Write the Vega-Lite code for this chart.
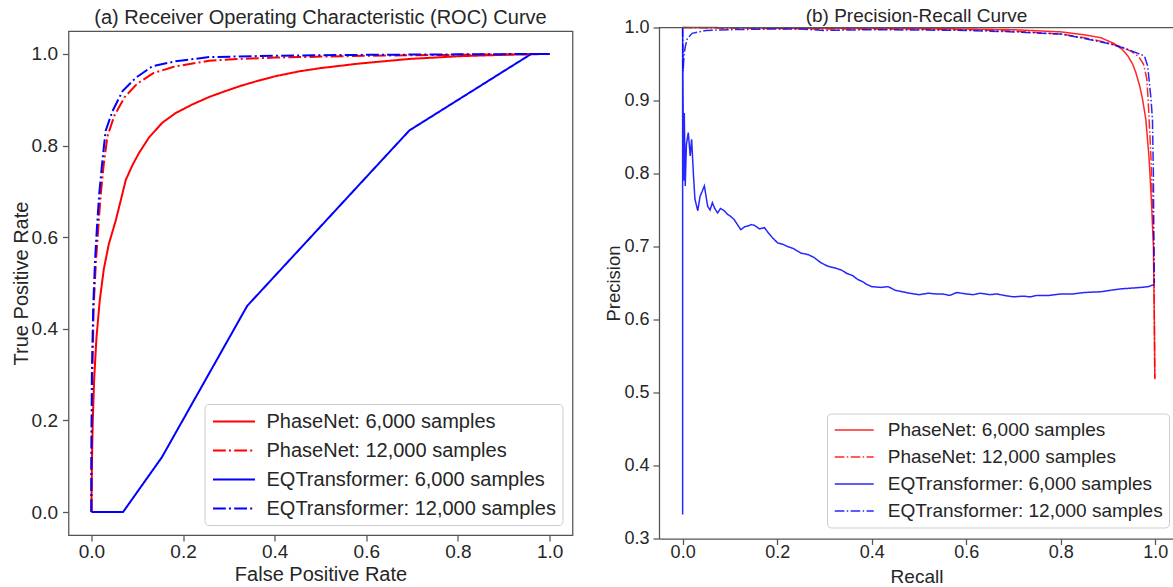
{
  "$schema": "https://vega.github.io/schema/vega-lite/v6.json",
  "padding": {"left": 9.5, "top": 6.5, "right": 0, "bottom": 0},
  "config": {
    "font": "Liberation Sans",
    "background": "#ffffff",
    "axis": {"grid": false, "labelFontSize": 19, "titleFontSize": 20, "labelColor": "#262626", "titleColor": "#262626", "titleFontWeight": "normal", "tickColor": "#555555", "tickWidth": 1.25, "tickSize": 6, "labelPadding": 2, "titlePadding": 4, "domainColor": "#555555", "domainWidth": 1.25},
    "title": {"fontSize": 20, "fontWeight": "normal", "color": "#262626", "anchor": "middle", "offset": 0, "frame": "group"},
    "legend": {"labelColor": "#262626", "labelLimit": 500}
  },
  "datasets": {
    "roc": [
      {"series": "PhaseNet: 6,000 samples", "i": 0, "x": 0, "y": 0},
      {"series": "PhaseNet: 6,000 samples", "i": 1, "x": 0.001, "y": 0.1},
      {"series": "PhaseNet: 6,000 samples", "i": 2, "x": 0.003, "y": 0.2},
      {"series": "PhaseNet: 6,000 samples", "i": 3, "x": 0.006, "y": 0.29},
      {"series": "PhaseNet: 6,000 samples", "i": 4, "x": 0.011, "y": 0.38},
      {"series": "PhaseNet: 6,000 samples", "i": 5, "x": 0.018, "y": 0.46},
      {"series": "PhaseNet: 6,000 samples", "i": 6, "x": 0.027, "y": 0.53},
      {"series": "PhaseNet: 6,000 samples", "i": 7, "x": 0.038, "y": 0.585},
      {"series": "PhaseNet: 6,000 samples", "i": 8, "x": 0.053, "y": 0.636},
      {"series": "PhaseNet: 6,000 samples", "i": 9, "x": 0.064, "y": 0.68},
      {"series": "PhaseNet: 6,000 samples", "i": 10, "x": 0.075, "y": 0.725},
      {"series": "PhaseNet: 6,000 samples", "i": 11, "x": 0.09, "y": 0.758},
      {"series": "PhaseNet: 6,000 samples", "i": 12, "x": 0.104, "y": 0.784},
      {"series": "PhaseNet: 6,000 samples", "i": 13, "x": 0.126, "y": 0.818},
      {"series": "PhaseNet: 6,000 samples", "i": 14, "x": 0.155, "y": 0.85},
      {"series": "PhaseNet: 6,000 samples", "i": 15, "x": 0.184, "y": 0.871},
      {"series": "PhaseNet: 6,000 samples", "i": 16, "x": 0.221, "y": 0.89},
      {"series": "PhaseNet: 6,000 samples", "i": 17, "x": 0.257, "y": 0.906},
      {"series": "PhaseNet: 6,000 samples", "i": 18, "x": 0.29, "y": 0.918},
      {"series": "PhaseNet: 6,000 samples", "i": 19, "x": 0.325, "y": 0.93},
      {"series": "PhaseNet: 6,000 samples", "i": 20, "x": 0.359, "y": 0.94},
      {"series": "PhaseNet: 6,000 samples", "i": 21, "x": 0.4, "y": 0.951},
      {"series": "PhaseNet: 6,000 samples", "i": 22, "x": 0.454, "y": 0.962},
      {"series": "PhaseNet: 6,000 samples", "i": 23, "x": 0.5, "y": 0.969},
      {"series": "PhaseNet: 6,000 samples", "i": 24, "x": 0.585, "y": 0.979},
      {"series": "PhaseNet: 6,000 samples", "i": 25, "x": 0.694, "y": 0.989},
      {"series": "PhaseNet: 6,000 samples", "i": 26, "x": 0.803, "y": 0.995},
      {"series": "PhaseNet: 6,000 samples", "i": 27, "x": 0.9, "y": 0.998},
      {"series": "PhaseNet: 6,000 samples", "i": 28, "x": 1.0, "y": 1.0},
      {"series": "PhaseNet: 12,000 samples", "i": 0, "x": 0, "y": 0},
      {"series": "PhaseNet: 12,000 samples", "i": 1, "x": 0, "y": 0.1},
      {"series": "PhaseNet: 12,000 samples", "i": 2, "x": 0.002, "y": 0.3},
      {"series": "PhaseNet: 12,000 samples", "i": 3, "x": 0.005, "y": 0.45},
      {"series": "PhaseNet: 12,000 samples", "i": 4, "x": 0.01, "y": 0.55},
      {"series": "PhaseNet: 12,000 samples", "i": 5, "x": 0.015, "y": 0.62},
      {"series": "PhaseNet: 12,000 samples", "i": 6, "x": 0.02, "y": 0.69},
      {"series": "PhaseNet: 12,000 samples", "i": 7, "x": 0.027, "y": 0.76},
      {"series": "PhaseNet: 12,000 samples", "i": 8, "x": 0.035, "y": 0.82},
      {"series": "PhaseNet: 12,000 samples", "i": 9, "x": 0.05, "y": 0.865},
      {"series": "PhaseNet: 12,000 samples", "i": 10, "x": 0.072, "y": 0.905},
      {"series": "PhaseNet: 12,000 samples", "i": 11, "x": 0.1, "y": 0.935},
      {"series": "PhaseNet: 12,000 samples", "i": 12, "x": 0.135, "y": 0.958},
      {"series": "PhaseNet: 12,000 samples", "i": 13, "x": 0.18, "y": 0.972},
      {"series": "PhaseNet: 12,000 samples", "i": 14, "x": 0.257, "y": 0.985},
      {"series": "PhaseNet: 12,000 samples", "i": 15, "x": 0.3, "y": 0.988},
      {"series": "PhaseNet: 12,000 samples", "i": 16, "x": 0.4, "y": 0.992},
      {"series": "PhaseNet: 12,000 samples", "i": 17, "x": 0.6, "y": 0.996},
      {"series": "PhaseNet: 12,000 samples", "i": 18, "x": 0.8, "y": 0.998},
      {"series": "PhaseNet: 12,000 samples", "i": 19, "x": 1.0, "y": 1.0},
      {"series": "EQTransformer: 6,000 samples", "i": 0, "x": 0, "y": 0},
      {"series": "EQTransformer: 6,000 samples", "i": 1, "x": 0.069, "y": 0},
      {"series": "EQTransformer: 6,000 samples", "i": 2, "x": 0.154, "y": 0.12},
      {"series": "EQTransformer: 6,000 samples", "i": 3, "x": 0.34, "y": 0.45},
      {"series": "EQTransformer: 6,000 samples", "i": 4, "x": 0.694, "y": 0.833},
      {"series": "EQTransformer: 6,000 samples", "i": 5, "x": 0.96, "y": 1.0},
      {"series": "EQTransformer: 6,000 samples", "i": 6, "x": 1.0, "y": 1.0},
      {"series": "EQTransformer: 12,000 samples", "i": 0, "x": 0, "y": 0},
      {"series": "EQTransformer: 12,000 samples", "i": 1, "x": 0, "y": 0.1},
      {"series": "EQTransformer: 12,000 samples", "i": 2, "x": 0.001, "y": 0.3},
      {"series": "EQTransformer: 12,000 samples", "i": 3, "x": 0.004, "y": 0.45},
      {"series": "EQTransformer: 12,000 samples", "i": 4, "x": 0.008, "y": 0.55},
      {"series": "EQTransformer: 12,000 samples", "i": 5, "x": 0.012, "y": 0.62},
      {"series": "EQTransformer: 12,000 samples", "i": 6, "x": 0.017, "y": 0.694},
      {"series": "EQTransformer: 12,000 samples", "i": 7, "x": 0.024, "y": 0.767},
      {"series": "EQTransformer: 12,000 samples", "i": 8, "x": 0.031, "y": 0.832},
      {"series": "EQTransformer: 12,000 samples", "i": 9, "x": 0.046, "y": 0.875},
      {"series": "EQTransformer: 12,000 samples", "i": 10, "x": 0.068, "y": 0.919},
      {"series": "EQTransformer: 12,000 samples", "i": 11, "x": 0.097, "y": 0.948},
      {"series": "EQTransformer: 12,000 samples", "i": 12, "x": 0.133, "y": 0.973},
      {"series": "EQTransformer: 12,000 samples", "i": 13, "x": 0.184, "y": 0.984},
      {"series": "EQTransformer: 12,000 samples", "i": 14, "x": 0.257, "y": 0.993},
      {"series": "EQTransformer: 12,000 samples", "i": 15, "x": 0.4, "y": 0.996},
      {"series": "EQTransformer: 12,000 samples", "i": 16, "x": 0.6, "y": 0.998},
      {"series": "EQTransformer: 12,000 samples", "i": 17, "x": 0.8, "y": 0.999},
      {"series": "EQTransformer: 12,000 samples", "i": 18, "x": 1.0, "y": 1.0}
    ],
    "pr": [
      {"series": "PhaseNet: 6,000 samples", "i": 0, "x": 0, "y": 1.0},
      {"series": "PhaseNet: 6,000 samples", "i": 1, "x": 0.05, "y": 1.0},
      {"series": "PhaseNet: 6,000 samples", "i": 2, "x": 0.2, "y": 0.999},
      {"series": "PhaseNet: 6,000 samples", "i": 3, "x": 0.4, "y": 0.999},
      {"series": "PhaseNet: 6,000 samples", "i": 4, "x": 0.6, "y": 0.998},
      {"series": "PhaseNet: 6,000 samples", "i": 5, "x": 0.7, "y": 0.997},
      {"series": "PhaseNet: 6,000 samples", "i": 6, "x": 0.8, "y": 0.994},
      {"series": "PhaseNet: 6,000 samples", "i": 7, "x": 0.85, "y": 0.99},
      {"series": "PhaseNet: 6,000 samples", "i": 8, "x": 0.885, "y": 0.986},
      {"series": "PhaseNet: 6,000 samples", "i": 9, "x": 0.913, "y": 0.978},
      {"series": "PhaseNet: 6,000 samples", "i": 10, "x": 0.93, "y": 0.97},
      {"series": "PhaseNet: 6,000 samples", "i": 11, "x": 0.942, "y": 0.961},
      {"series": "PhaseNet: 6,000 samples", "i": 12, "x": 0.952, "y": 0.95},
      {"series": "PhaseNet: 6,000 samples", "i": 13, "x": 0.959, "y": 0.938},
      {"series": "PhaseNet: 6,000 samples", "i": 14, "x": 0.967, "y": 0.92},
      {"series": "PhaseNet: 6,000 samples", "i": 15, "x": 0.973, "y": 0.902},
      {"series": "PhaseNet: 6,000 samples", "i": 16, "x": 0.98, "y": 0.874},
      {"series": "PhaseNet: 6,000 samples", "i": 17, "x": 0.987, "y": 0.82},
      {"series": "PhaseNet: 6,000 samples", "i": 18, "x": 0.992, "y": 0.76},
      {"series": "PhaseNet: 6,000 samples", "i": 19, "x": 0.996, "y": 0.7},
      {"series": "PhaseNet: 6,000 samples", "i": 20, "x": 0.998, "y": 0.6},
      {"series": "PhaseNet: 6,000 samples", "i": 21, "x": 0.999, "y": 0.518},
      {"series": "PhaseNet: 12,000 samples", "i": 0, "x": 0, "y": 1.0},
      {"series": "PhaseNet: 12,000 samples", "i": 1, "x": 0.1, "y": 0.999},
      {"series": "PhaseNet: 12,000 samples", "i": 2, "x": 0.3, "y": 0.998},
      {"series": "PhaseNet: 12,000 samples", "i": 3, "x": 0.5, "y": 0.998},
      {"series": "PhaseNet: 12,000 samples", "i": 4, "x": 0.6, "y": 0.997},
      {"series": "PhaseNet: 12,000 samples", "i": 5, "x": 0.7, "y": 0.995},
      {"series": "PhaseNet: 12,000 samples", "i": 6, "x": 0.8, "y": 0.991},
      {"series": "PhaseNet: 12,000 samples", "i": 7, "x": 0.85, "y": 0.986},
      {"series": "PhaseNet: 12,000 samples", "i": 8, "x": 0.9, "y": 0.979},
      {"series": "PhaseNet: 12,000 samples", "i": 9, "x": 0.93, "y": 0.973},
      {"series": "PhaseNet: 12,000 samples", "i": 10, "x": 0.95, "y": 0.967},
      {"series": "PhaseNet: 12,000 samples", "i": 11, "x": 0.965, "y": 0.96},
      {"series": "PhaseNet: 12,000 samples", "i": 12, "x": 0.975, "y": 0.95},
      {"series": "PhaseNet: 12,000 samples", "i": 13, "x": 0.982, "y": 0.93},
      {"series": "PhaseNet: 12,000 samples", "i": 14, "x": 0.985, "y": 0.9},
      {"series": "PhaseNet: 12,000 samples", "i": 15, "x": 0.987, "y": 0.874},
      {"series": "PhaseNet: 12,000 samples", "i": 16, "x": 0.991, "y": 0.82},
      {"series": "PhaseNet: 12,000 samples", "i": 17, "x": 0.994, "y": 0.76},
      {"series": "PhaseNet: 12,000 samples", "i": 18, "x": 0.997, "y": 0.7},
      {"series": "PhaseNet: 12,000 samples", "i": 19, "x": 0.998, "y": 0.6},
      {"series": "PhaseNet: 12,000 samples", "i": 20, "x": 0.999, "y": 0.52},
      {"series": "EQTransformer: 6,000 samples", "i": 0, "x": 0, "y": 0.333},
      {"series": "EQTransformer: 6,000 samples", "i": 1, "x": 0, "y": 1.0},
      {"series": "EQTransformer: 6,000 samples", "i": 2, "x": 0.002, "y": 0.79},
      {"series": "EQTransformer: 6,000 samples", "i": 3, "x": 0.0035, "y": 0.883},
      {"series": "EQTransformer: 6,000 samples", "i": 4, "x": 0.0055, "y": 0.783},
      {"series": "EQTransformer: 6,000 samples", "i": 5, "x": 0.008, "y": 0.84},
      {"series": "EQTransformer: 6,000 samples", "i": 6, "x": 0.012, "y": 0.856},
      {"series": "EQTransformer: 6,000 samples", "i": 7, "x": 0.016, "y": 0.824},
      {"series": "EQTransformer: 6,000 samples", "i": 8, "x": 0.019, "y": 0.847},
      {"series": "EQTransformer: 6,000 samples", "i": 9, "x": 0.023, "y": 0.797},
      {"series": "EQTransformer: 6,000 samples", "i": 10, "x": 0.026, "y": 0.765},
      {"series": "EQTransformer: 6,000 samples", "i": 11, "x": 0.032, "y": 0.749},
      {"series": "EQTransformer: 6,000 samples", "i": 12, "x": 0.037, "y": 0.769},
      {"series": "EQTransformer: 6,000 samples", "i": 13, "x": 0.041, "y": 0.775},
      {"series": "EQTransformer: 6,000 samples", "i": 14, "x": 0.046, "y": 0.783},
      {"series": "EQTransformer: 6,000 samples", "i": 15, "x": 0.053, "y": 0.755},
      {"series": "EQTransformer: 6,000 samples", "i": 16, "x": 0.058, "y": 0.75},
      {"series": "EQTransformer: 6,000 samples", "i": 17, "x": 0.063, "y": 0.76},
      {"series": "EQTransformer: 6,000 samples", "i": 18, "x": 0.068, "y": 0.752},
      {"series": "EQTransformer: 6,000 samples", "i": 19, "x": 0.074, "y": 0.746},
      {"series": "EQTransformer: 6,000 samples", "i": 20, "x": 0.08, "y": 0.752},
      {"series": "EQTransformer: 6,000 samples", "i": 21, "x": 0.088, "y": 0.749},
      {"series": "EQTransformer: 6,000 samples", "i": 22, "x": 0.095, "y": 0.744},
      {"series": "EQTransformer: 6,000 samples", "i": 23, "x": 0.1, "y": 0.742},
      {"series": "EQTransformer: 6,000 samples", "i": 24, "x": 0.109, "y": 0.737},
      {"series": "EQTransformer: 6,000 samples", "i": 25, "x": 0.116, "y": 0.73},
      {"series": "EQTransformer: 6,000 samples", "i": 26, "x": 0.123, "y": 0.723},
      {"series": "EQTransformer: 6,000 samples", "i": 27, "x": 0.131, "y": 0.727},
      {"series": "EQTransformer: 6,000 samples", "i": 28, "x": 0.138, "y": 0.728},
      {"series": "EQTransformer: 6,000 samples", "i": 29, "x": 0.145, "y": 0.73},
      {"series": "EQTransformer: 6,000 samples", "i": 30, "x": 0.152, "y": 0.729},
      {"series": "EQTransformer: 6,000 samples", "i": 31, "x": 0.163, "y": 0.724},
      {"series": "EQTransformer: 6,000 samples", "i": 32, "x": 0.173, "y": 0.726},
      {"series": "EQTransformer: 6,000 samples", "i": 33, "x": 0.182, "y": 0.718},
      {"series": "EQTransformer: 6,000 samples", "i": 34, "x": 0.19, "y": 0.712},
      {"series": "EQTransformer: 6,000 samples", "i": 35, "x": 0.201, "y": 0.705},
      {"series": "EQTransformer: 6,000 samples", "i": 36, "x": 0.212, "y": 0.703},
      {"series": "EQTransformer: 6,000 samples", "i": 37, "x": 0.222, "y": 0.7},
      {"series": "EQTransformer: 6,000 samples", "i": 38, "x": 0.235, "y": 0.697},
      {"series": "EQTransformer: 6,000 samples", "i": 39, "x": 0.25, "y": 0.691},
      {"series": "EQTransformer: 6,000 samples", "i": 40, "x": 0.265, "y": 0.689},
      {"series": "EQTransformer: 6,000 samples", "i": 41, "x": 0.278, "y": 0.685},
      {"series": "EQTransformer: 6,000 samples", "i": 42, "x": 0.292, "y": 0.678},
      {"series": "EQTransformer: 6,000 samples", "i": 43, "x": 0.307, "y": 0.673},
      {"series": "EQTransformer: 6,000 samples", "i": 44, "x": 0.32, "y": 0.671},
      {"series": "EQTransformer: 6,000 samples", "i": 45, "x": 0.335, "y": 0.668},
      {"series": "EQTransformer: 6,000 samples", "i": 46, "x": 0.348, "y": 0.663},
      {"series": "EQTransformer: 6,000 samples", "i": 47, "x": 0.36, "y": 0.66},
      {"series": "EQTransformer: 6,000 samples", "i": 48, "x": 0.37, "y": 0.655},
      {"series": "EQTransformer: 6,000 samples", "i": 49, "x": 0.38, "y": 0.652},
      {"series": "EQTransformer: 6,000 samples", "i": 50, "x": 0.39, "y": 0.648},
      {"series": "EQTransformer: 6,000 samples", "i": 51, "x": 0.4, "y": 0.645},
      {"series": "EQTransformer: 6,000 samples", "i": 52, "x": 0.42, "y": 0.644},
      {"series": "EQTransformer: 6,000 samples", "i": 53, "x": 0.435, "y": 0.645},
      {"series": "EQTransformer: 6,000 samples", "i": 54, "x": 0.45, "y": 0.64},
      {"series": "EQTransformer: 6,000 samples", "i": 55, "x": 0.465, "y": 0.638},
      {"series": "EQTransformer: 6,000 samples", "i": 56, "x": 0.48, "y": 0.636},
      {"series": "EQTransformer: 6,000 samples", "i": 57, "x": 0.5, "y": 0.634},
      {"series": "EQTransformer: 6,000 samples", "i": 58, "x": 0.52, "y": 0.636},
      {"series": "EQTransformer: 6,000 samples", "i": 59, "x": 0.535, "y": 0.635},
      {"series": "EQTransformer: 6,000 samples", "i": 60, "x": 0.55, "y": 0.635},
      {"series": "EQTransformer: 6,000 samples", "i": 61, "x": 0.565, "y": 0.633},
      {"series": "EQTransformer: 6,000 samples", "i": 62, "x": 0.58, "y": 0.637},
      {"series": "EQTransformer: 6,000 samples", "i": 63, "x": 0.6, "y": 0.635},
      {"series": "EQTransformer: 6,000 samples", "i": 64, "x": 0.615, "y": 0.634},
      {"series": "EQTransformer: 6,000 samples", "i": 65, "x": 0.63, "y": 0.636},
      {"series": "EQTransformer: 6,000 samples", "i": 66, "x": 0.65, "y": 0.634},
      {"series": "EQTransformer: 6,000 samples", "i": 67, "x": 0.665, "y": 0.635},
      {"series": "EQTransformer: 6,000 samples", "i": 68, "x": 0.68, "y": 0.633},
      {"series": "EQTransformer: 6,000 samples", "i": 69, "x": 0.7, "y": 0.631},
      {"series": "EQTransformer: 6,000 samples", "i": 70, "x": 0.72, "y": 0.632},
      {"series": "EQTransformer: 6,000 samples", "i": 71, "x": 0.735, "y": 0.631},
      {"series": "EQTransformer: 6,000 samples", "i": 72, "x": 0.75, "y": 0.633},
      {"series": "EQTransformer: 6,000 samples", "i": 73, "x": 0.775, "y": 0.633},
      {"series": "EQTransformer: 6,000 samples", "i": 74, "x": 0.8, "y": 0.635},
      {"series": "EQTransformer: 6,000 samples", "i": 75, "x": 0.825, "y": 0.635},
      {"series": "EQTransformer: 6,000 samples", "i": 76, "x": 0.85, "y": 0.637},
      {"series": "EQTransformer: 6,000 samples", "i": 77, "x": 0.885, "y": 0.638},
      {"series": "EQTransformer: 6,000 samples", "i": 78, "x": 0.905, "y": 0.64},
      {"series": "EQTransformer: 6,000 samples", "i": 79, "x": 0.928, "y": 0.642},
      {"series": "EQTransformer: 6,000 samples", "i": 80, "x": 0.95, "y": 0.643},
      {"series": "EQTransformer: 6,000 samples", "i": 81, "x": 0.97, "y": 0.644},
      {"series": "EQTransformer: 6,000 samples", "i": 82, "x": 0.985, "y": 0.645},
      {"series": "EQTransformer: 6,000 samples", "i": 83, "x": 0.998, "y": 0.648},
      {"series": "EQTransformer: 12,000 samples", "i": 0, "x": 0, "y": 1.0},
      {"series": "EQTransformer: 12,000 samples", "i": 1, "x": 0.001, "y": 0.94},
      {"series": "EQTransformer: 12,000 samples", "i": 2, "x": 0.003, "y": 0.963},
      {"series": "EQTransformer: 12,000 samples", "i": 3, "x": 0.006, "y": 0.975},
      {"series": "EQTransformer: 12,000 samples", "i": 4, "x": 0.01, "y": 0.985},
      {"series": "EQTransformer: 12,000 samples", "i": 5, "x": 0.02, "y": 0.992},
      {"series": "EQTransformer: 12,000 samples", "i": 6, "x": 0.05, "y": 0.996},
      {"series": "EQTransformer: 12,000 samples", "i": 7, "x": 0.1, "y": 0.997},
      {"series": "EQTransformer: 12,000 samples", "i": 8, "x": 0.2, "y": 0.998},
      {"series": "EQTransformer: 12,000 samples", "i": 9, "x": 0.25, "y": 0.998},
      {"series": "EQTransformer: 12,000 samples", "i": 10, "x": 0.3, "y": 0.996},
      {"series": "EQTransformer: 12,000 samples", "i": 11, "x": 0.4, "y": 0.997},
      {"series": "EQTransformer: 12,000 samples", "i": 12, "x": 0.6, "y": 0.996},
      {"series": "EQTransformer: 12,000 samples", "i": 13, "x": 0.7, "y": 0.994},
      {"series": "EQTransformer: 12,000 samples", "i": 14, "x": 0.8, "y": 0.991},
      {"series": "EQTransformer: 12,000 samples", "i": 15, "x": 0.85, "y": 0.985},
      {"series": "EQTransformer: 12,000 samples", "i": 16, "x": 0.907, "y": 0.977},
      {"series": "EQTransformer: 12,000 samples", "i": 17, "x": 0.942, "y": 0.97},
      {"series": "EQTransformer: 12,000 samples", "i": 18, "x": 0.977, "y": 0.961},
      {"series": "EQTransformer: 12,000 samples", "i": 19, "x": 0.984, "y": 0.947},
      {"series": "EQTransformer: 12,000 samples", "i": 20, "x": 0.991, "y": 0.902},
      {"series": "EQTransformer: 12,000 samples", "i": 21, "x": 0.994, "y": 0.874},
      {"series": "EQTransformer: 12,000 samples", "i": 22, "x": 0.996, "y": 0.8},
      {"series": "EQTransformer: 12,000 samples", "i": 23, "x": 0.997, "y": 0.7},
      {"series": "EQTransformer: 12,000 samples", "i": 24, "x": 0.998, "y": 0.65}
    ]
  },
  "spacing": 86.5,
  "bounds": "flush",
  "center": true,
  "resolve": {
    "scale": {"color": "independent", "strokeDash": "independent", "x": "independent", "y": "independent"},
    "legend": {"color": "independent", "strokeDash": "independent"}
  },
  "hconcat": [
    {
      "width": 504,
      "height": 504,
      "view": {"stroke": "#555555", "strokeWidth": 1.25},
      "title": {"text": "(a) Receiver Operating Characteristic (ROC) Curve", "fontSize": 20, "offset": 3},
      "data": {"name": "roc"},
      "mark": {"type": "line", "strokeWidth": 2},
      "encoding": {
        "x": {"field": "x", "type": "quantitative", "scale": {"domain": [-0.05, 1.05], "nice": false, "zero": false}, "axis": {"values": [0, 0.2, 0.4, 0.6, 0.8, 1.0], "format": ".1f", "title": "False Positive Rate", "domain": false, "labelPadding": 1, "titlePadding": 3}},
        "y": {"field": "y", "type": "quantitative", "scale": {"domain": [-0.05, 1.05], "nice": false, "zero": false}, "axis": {"values": [0, 0.2, 0.4, 0.6, 0.8, 1.0], "format": ".1f", "title": "True Positive Rate", "domain": false, "labelPadding": 5, "titlePadding": 0}},
        "order": {"field": "i", "type": "quantitative"},
        "color": {
          "field": "series", "type": "nominal",
          "scale": {"domain": ["PhaseNet: 6,000 samples", "PhaseNet: 12,000 samples", "EQTransformer: 6,000 samples", "EQTransformer: 12,000 samples"], "range": ["#ff0000", "#ff0000", "#0000ff", "#0000ff"]},
          "legend": {"title": null, "orient": "bottom-right", "offset": 10, "fillColor": "#ffffff", "strokeColor": "#cccccc", "cornerRadius": 4, "padding": 6, "labelFontSize": 20, "symbolType": "M-2,0H2", "symbolSize": 441, "symbolStrokeWidth": 2, "symbolOffset": 12, "labelOffset": 21, "rowPadding": 7}
        },
        "strokeDash": {
          "field": "series", "type": "nominal",
          "scale": {"domain": ["PhaseNet: 6,000 samples", "PhaseNet: 12,000 samples", "EQTransformer: 6,000 samples", "EQTransformer: 12,000 samples"], "range": [[1, 0], [12.8, 3.2, 2, 3.2], [1, 0], [12.8, 3.2, 2, 3.2]]},
          "legend": {"title": null, "orient": "bottom-right", "offset": 10, "fillColor": "#ffffff", "strokeColor": "#cccccc", "cornerRadius": 4, "padding": 6, "labelFontSize": 20, "symbolType": "M-2,0H2", "symbolSize": 441, "symbolStrokeWidth": 2, "symbolOffset": 12, "labelOffset": 21, "rowPadding": 7}
        }
      }
    },
    {
      "width": 515,
      "height": 511,
      "view": {"stroke": null},
      "title": {"text": "(b) Precision-Recall Curve", "fontSize": 19, "offset": -7},
      "layer": [
        {
          "data": {"name": "pr"},
          "mark": {"type": "line", "strokeWidth": 1.5, "opacity": 0.85},
          "encoding": {
            "x": {"field": "x", "type": "quantitative", "scale": {"domain": [-0.05, 1.0396], "nice": false, "zero": false}, "axis": {"values": [0, 0.2, 0.4, 0.6, 0.8, 1.0], "format": ".1f", "title": "Recall", "domain": true, "labelFontSize": 18, "titleFontSize": 19, "labelPadding": -1.5, "titlePadding": 6.5}},
            "y": {"field": "y", "type": "quantitative", "scale": {"domain": [0.3, 1.0], "nice": false, "zero": false}, "axis": {"values": [0.3, 0.4, 0.5, 0.6, 0.7, 0.8, 0.9, 1.0], "format": ".1f", "title": "Precision", "domain": true, "labelFontSize": 18, "titleFontSize": 18.5, "labelPadding": 4, "titlePadding": 0}},
            "order": {"field": "i", "type": "quantitative"},
            "color": {
              "field": "series", "type": "nominal",
              "scale": {"domain": ["PhaseNet: 6,000 samples", "PhaseNet: 12,000 samples", "EQTransformer: 6,000 samples", "EQTransformer: 12,000 samples"], "range": ["#ff0000", "#ff0000", "#0000ff", "#0000ff"]},
              "legend": {"title": null, "orient": "none", "legendX": 168, "legendY": 386, "fillColor": "#ffffff", "strokeColor": "#cccccc", "cornerRadius": 4, "padding": 6, "labelFontSize": 19, "symbolType": "M-2,0H2", "symbolSize": 380, "symbolStrokeWidth": 1.5, "symbolOpacity": 0.85, "symbolOffset": 10.75, "labelOffset": 23, "rowPadding": 6}
            },
            "strokeDash": {
              "field": "series", "type": "nominal",
              "scale": {"domain": ["PhaseNet: 6,000 samples", "PhaseNet: 12,000 samples", "EQTransformer: 6,000 samples", "EQTransformer: 12,000 samples"], "range": [[1, 0], [9.6, 2.4, 1.5, 2.4], [1, 0], [9.6, 2.4, 1.5, 2.4]]},
              "legend": {"title": null, "orient": "none", "legendX": 168, "legendY": 386, "fillColor": "#ffffff", "strokeColor": "#cccccc", "cornerRadius": 4, "padding": 6, "labelFontSize": 19, "symbolType": "M-2,0H2", "symbolSize": 380, "symbolStrokeWidth": 1.5, "symbolOpacity": 0.85, "symbolOffset": 10.75, "labelOffset": 23, "rowPadding": 6}
            }
          }
        },
        {
          "data": {"values": [{"top": 1.0}]},
          "mark": {"type": "rule", "color": "#555555", "strokeWidth": 1.25},
          "encoding": {"y": {"field": "top", "type": "quantitative"}}
        }
      ]
    }
  ]
}
